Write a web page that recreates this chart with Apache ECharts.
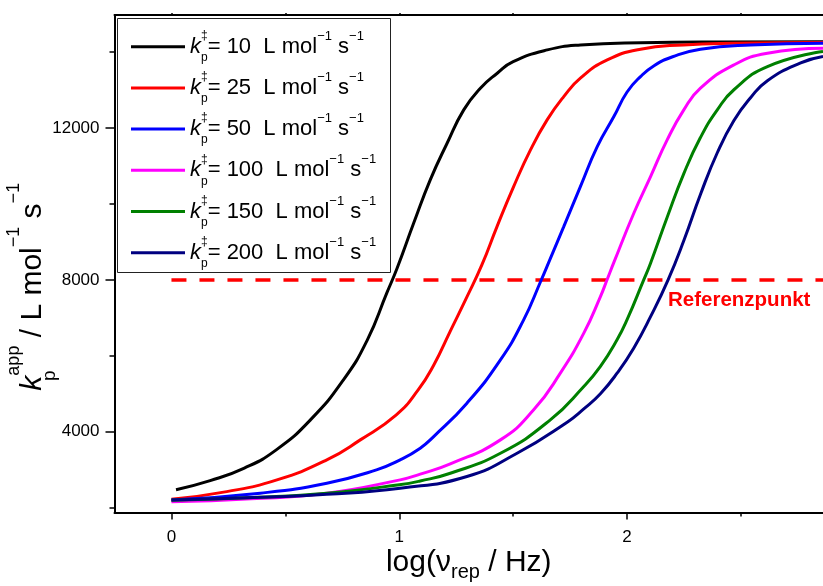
<!DOCTYPE html>
<html>
<head>
<meta charset="utf-8">
<script src="https://cdn.jsdelivr.net/npm/echarts@6/dist/echarts.min.js"></script>
<style>
  html, body { margin: 0; padding: 0; background: #ffffff; }
  #chart { width: 823px; height: 586px; }
</style>
</head>
<body>
<div id="chart"></div>
<script>
// Propagation rate coefficients k‡p of the simulated curves (L mol−1 s−1)
const kpValues = [10, 25, 50, 100, 150, 200];
const lineColors = ['#000000', '#ff0000', '#0000ff', '#ff00ff', '#008000', '#000080'];

// [log(ν_rep / Hz), k_p^app / L mol−1 s−1] for each curve
const curveKp10 = [
  [0.02, 2470], [0.17, 2710], [0.32, 3040], [0.46, 3520], [0.61, 4310],
  [0.755, 5365], [0.86, 6420], [0.945, 7650], [0.99, 8300], [1.063, 9490],
  [1.136, 10635], [1.21, 11600], [1.283, 12480], [1.356, 13050], [1.43, 13445],
  [1.50, 13750], [1.65, 14060], [1.795, 14190], [2.06, 14250], [2.4, 14268],
  [2.86, 14272]
];
const curveKp25 = [
  [0.0, 2220], [0.243, 2420], [0.463, 2730], [0.682, 3257], [0.829, 3784],
  [0.987, 4443], [1.083, 5100], [1.151, 5750], [1.224, 6650], [1.297, 7550],
  [1.363, 8400], [1.429, 9404], [1.502, 10458], [1.576, 11426], [1.649, 12216],
  [1.722, 12830], [1.795, 13315], [1.913, 13797], [2.059, 14079], [2.248, 14192],
  [2.467, 14236], [2.86, 14258]
];
const curveKp50 = [
  [0.0, 2200], [0.39, 2380], [0.682, 2643], [0.90, 2994], [1.004, 3257],
  [1.092, 3565], [1.151, 3871], [1.297, 4751], [1.444, 5892], [1.546, 6946],
  [1.62, 7950], [1.663, 8560], [1.722, 9404], [1.795, 10458], [1.869, 11512],
  [1.942, 12303], [2.0, 12950], [2.059, 13357], [2.12, 13650], [2.2, 13880],
  [2.322, 14080], [2.542, 14192], [2.86, 14237]
];
const curveKp100 = [
  [0.0, 2150], [0.35, 2230], [0.682, 2380], [1.004, 2730], [1.092, 2880],
  [1.224, 3150], [1.444, 3784], [1.59, 4575], [1.707, 5542], [1.81, 6596],
  [1.883, 7560], [1.913, 8018], [1.942, 8460], [2.029, 9750], [2.103, 10722],
  [2.176, 11689], [2.249, 12480], [2.322, 13051], [2.469, 13665], [2.616, 13974],
  [2.86, 14105]
];
const curveKp150 = [
  [0.0, 2190], [0.39, 2270], [0.682, 2380], [1.0, 2600], [1.092, 2700],
  [1.224, 2905], [1.444, 3430], [1.663, 4310], [1.81, 5190], [1.883, 5720],
  [1.956, 6420], [2.0, 6950], [2.073, 8000], [2.103, 8440], [2.176, 9650],
  [2.249, 10800], [2.322, 11750], [2.396, 12480], [2.469, 13010], [2.616, 13620],
  [2.86, 14020]
];
const curveKp200 = [
  [0.0, 2200], [0.39, 2270], [0.682, 2350], [1.004, 2510], [1.297, 2820],
  [1.517, 3430], [1.737, 4250], [1.81, 4600], [1.883, 5000], [1.956, 5540],
  [2.029, 6200], [2.103, 7030], [2.18, 8000], [2.25, 9050], [2.322, 10250],
  [2.396, 11350], [2.469, 12200], [2.542, 12800], [2.616, 13250], [2.762, 13720],
  [2.86, 13890]
];
const curves = [curveKp10, curveKp25, curveKp50, curveKp100, curveKp150, curveKp200];

// Horizontal reference level
const refLevel = 8000;
const refLogFreq = [0, 2.86];
const refLabel = 'Referenzpunkt';

// Axis ticks and ranges
const xRange = [-0.25, 2.86];
const yRange = [1870, 14980];
const xTicksMajor = [0, 1, 2];
const xTicksMinor = [0.5, 1.5, 2.5];
const xTicksTop = [0, 0.5, 1, 1.5, 2, 2.5];
const yTicksMajor = [4000, 8000, 12000];
const yTicksMinor = [2000, 6000, 10000, 14000];

const FONT = '"Liberation Sans", Arial, Helvetica, sans-serif';
const seriesNames = kpValues.map(v => 'k‡p = ' + v + ' L mol−1 s−1');

const gridBox = { left: 114.5, right: 0, top: 15, bottom: 73.5, containLabel: false, outerBoundsMode: 'none' };

const chart = echarts.init(document.getElementById('chart'), null, { renderer: 'canvas' });

const lineSeries = curves.map((pts, i) => ({
  name: seriesNames[i],
  type: 'line',
  xAxisIndex: 0,
  yAxisIndex: 0,
  data: pts,
  showSymbol: false,
  smooth: 0.5,
  color: lineColors[i],
  lineStyle: { color: lineColors[i], width: 3 },
  emphasis: { disabled: true },
  z: 3 + i
}));

const refSeries = {
  name: 'ref',
  type: 'line',
  xAxisIndex: 0,
  yAxisIndex: 0,
  data: refLogFreq.map(x => [x, refLevel]),
  showSymbol: false,
  lineStyle: { color: '#ff0000', width: 3.5, type: [15, 13] },
  emphasis: { disabled: true },
  z: 2
};

const plain = v => String(v);

const option = {
  animation: false,
  backgroundColor: '#ffffff',
  textStyle: { fontFamily: FONT },
  grid: [gridBox, Object.assign({}, gridBox)],
  xAxis: [
    {
      type: 'value', gridIndex: 0, position: 'bottom',
      min: xRange[0], max: xRange[1],
      axisLine: { show: true, onZero: false, lineStyle: { color: '#000', width: 2 } },
      axisTick: { show: true, customValues: xTicksMajor, length: 7, lineStyle: { color: '#000', width: 1.5 } },
      axisLabel: { customValues: xTicksMajor, formatter: plain, fontSize: 17, color: '#000', margin: 16, fontFamily: FONT },
      splitLine: { show: false },
      name: '{m|log(ν}{sub|rep}{m| / Hz)}',
      nameLocation: 'middle',
      nameGap: 30,
      nameMoveOverlap: false,
      nameTextStyle: {
        fontFamily: FONT, color: '#000',
        rich: {
          m: { fontSize: 30, lineHeight: 40, verticalAlign: 'middle', fontFamily: FONT, color: '#000' },
          sub: { fontSize: 20, lineHeight: 17, verticalAlign: 'bottom', fontFamily: FONT, color: '#000' }
        }
      }
    },
    {
      type: 'value', gridIndex: 0, position: 'top',
      min: xRange[0], max: xRange[1],
      axisLine: { show: true, onZero: false, lineStyle: { color: '#000', width: 2 } },
      axisTick: { show: true, customValues: xTicksTop, length: 2, lineStyle: { color: '#000', width: 1.5 } },
      axisLabel: { show: false },
      splitLine: { show: false }
    },
    {
      type: 'value', gridIndex: 1, position: 'bottom',
      min: xRange[0], max: xRange[1],
      axisLine: { show: false, onZero: false },
      axisTick: { show: true, customValues: xTicksMinor, length: 4, lineStyle: { color: '#000', width: 1.5 } },
      axisLabel: { show: false },
      splitLine: { show: false }
    }
  ],
  yAxis: [
    {
      type: 'value', gridIndex: 0, position: 'left',
      min: yRange[0], max: yRange[1],
      axisLine: { show: true, onZero: false, lineStyle: { color: '#000', width: 2 } },
      axisTick: { show: true, customValues: yTicksMajor, length: 9, lineStyle: { color: '#000', width: 1.5 } },
      axisLabel: { customValues: yTicksMajor, formatter: plain, fontSize: 17, color: '#000', margin: 15, fontFamily: FONT },
      splitLine: { show: false },
      name: '{k|k}{sub|p}{sup|app}{m| / L mol}{sup|−1}{m| s}{sup|−1}',
      nameLocation: 'middle',
      nameGap: 55,
      nameMoveOverlap: false,
      nameTextStyle: {
        fontFamily: FONT, color: '#000',
        padding: [0, 46, 0, 0],
        rich: {
          k: { fontSize: 30, lineHeight: 54, verticalAlign: 'middle', fontStyle: 'italic', fontFamily: FONT, color: '#000' },
          m: { fontSize: 30, lineHeight: 54, verticalAlign: 'middle', fontFamily: FONT, color: '#000' },
          sup: { fontSize: 18, lineHeight: 18, verticalAlign: 'top', fontFamily: FONT, color: '#000' },
          sub: { fontSize: 19, lineHeight: 28, verticalAlign: 'bottom', width: 0, fontFamily: FONT, color: '#000' }
        }
      }
    },
    {
      type: 'value', gridIndex: 1, position: 'left',
      min: yRange[0], max: yRange[1],
      axisLine: { show: false, onZero: false },
      axisTick: { show: true, customValues: yTicksMinor, length: 5, lineStyle: { color: '#000', width: 1.5 } },
      axisLabel: { show: false },
      splitLine: { show: false }
    }
  ],
  legend: {
    data: seriesNames,
    orient: 'vertical',
    left: 131,
    top: 29.7,
    padding: 0,
    itemGap: 7.2,
    itemWidth: 54,
    itemHeight: 3,
    icon: 'rect',
    selectedMode: false,
    formatter: name => {
      const v = kpValues[seriesNames.indexOf(name)];
      return '{k|k}{dag|‡}{sub|p}{m|= ' + v + '  L mol}{sup|−1}{m| s}{sup|−1}';
    },
    textStyle: {
      fontFamily: FONT, color: '#000', fontSize: 22,
      rich: {
        k: { fontSize: 22, lineHeight: 34, verticalAlign: 'middle', fontStyle: 'italic', fontFamily: FONT, color: '#000' },
        m: { fontSize: 22, lineHeight: 34, verticalAlign: 'middle', fontFamily: FONT, color: '#000' },
        dag: { fontSize: 12, lineHeight: 12, verticalAlign: 'top', width: 0, fontFamily: FONT, color: '#000' },
        sub: { fontSize: 12, lineHeight: 12, verticalAlign: 'bottom', fontFamily: FONT, color: '#000' },
        sup: { fontSize: 13, lineHeight: 13, verticalAlign: 'top', fontFamily: FONT, color: '#000' }
      }
    }
  },
  graphic: [
    {
      type: 'rect', z: 10,
      shape: { x: 117.5, y: 18.5, width: 273, height: 254 },
      style: { fill: 'none', stroke: '#222', lineWidth: 1 }
    },
    {
      type: 'text', z: 10, x: 668, y: 290,
      style: { text: refLabel, fill: '#ff0000', font: 'bold 20.5px ' + FONT, textVerticalAlign: 'top' }
    }
  ],
  series: [refSeries].concat(lineSeries)
};

chart.setOption(option);
</script>
</body>
</html>
